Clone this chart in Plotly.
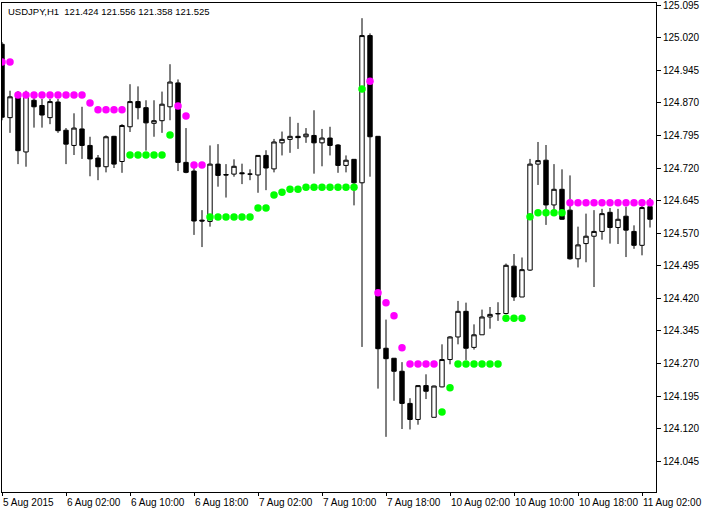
import plotly.graph_objects as go

# ---- data (USDJPY H1) ----
bar_index = list(range(82))

opens = [125.005, 124.836, 124.885, 124.757, 124.876, 124.864, 124.836, 124.872, 124.807, 124.772,
         124.810, 124.772, 124.743, 124.723, 124.793, 124.735, 124.815, 124.873, 124.859, 124.823,
         124.829, 124.861, 124.916, 124.733, 124.713, 124.600, 124.597, 124.729, 124.705, 124.706,
         124.709, 124.706, 124.704, 124.749, 124.718, 124.778, 124.786, 124.793, 124.792, 124.795,
         124.778, 124.789, 124.773, 124.726, 124.740, 124.686, 125.025, 124.793, 124.305, 124.282,
         124.252, 124.178, 124.141, 124.219, 124.146, 124.216, 124.279, 124.331, 124.390, 124.307,
         124.336, 124.377, 124.384, 124.385, 124.494, 124.423, 124.485, 124.729, 124.738, 124.635,
         124.671, 124.623, 124.511, 124.546, 124.563, 124.574, 124.618, 124.583, 124.609, 124.574,
         124.542, 124.631]

highs = [125.010, 124.898, 124.897, 124.898, 124.888, 124.879, 124.879, 124.879, 124.812, 124.846,
         124.861, 124.792, 124.750, 124.795, 124.794, 124.821, 124.913, 124.908, 124.876, 124.876,
         124.896, 124.959, 124.924, 124.812, 124.732, 124.623, 124.772, 124.775, 124.729, 124.740,
         124.730, 124.717, 124.750, 124.761, 124.787, 124.804, 124.838, 124.824, 124.812, 124.853,
         124.810, 124.815, 124.775, 124.749, 124.740, 125.065, 125.030, 124.793, 124.371, 124.282,
         124.273, 124.190, 124.220, 124.245, 124.219, 124.314, 124.333, 124.414, 124.410, 124.360,
         124.394, 124.400, 124.411, 124.500, 124.522, 124.514, 124.741, 124.780, 124.773, 124.729,
         124.717, 124.703, 124.585, 124.615, 124.623, 124.626, 124.628, 124.626, 124.631, 124.588,
         124.640, 124.651]

lows = [124.830, 124.801, 124.729, 124.723, 124.813, 124.813, 124.821, 124.801, 124.729, 124.750,
        124.741, 124.701, 124.692, 124.710, 124.720, 124.709, 124.803, 124.832, 124.760, 124.792,
        124.801, 124.830, 124.713, 124.708, 124.566, 124.538, 124.585, 124.677, 124.652, 124.700,
        124.683, 124.692, 124.663, 124.669, 124.710, 124.749, 124.755, 124.764, 124.778, 124.707,
        124.724, 124.749, 124.709, 124.710, 124.634, 124.308, 124.700, 124.212, 124.101, 124.184,
        124.119, 124.118, 124.129, 124.188, 124.146, 124.215, 124.268, 124.314, 124.278, 124.302,
        124.336, 124.350, 124.368, 124.383, 124.414, 124.423, 124.483, 124.681, 124.589, 124.617,
        124.601, 124.509, 124.491, 124.503, 124.446, 124.555, 124.546, 124.545, 124.515, 124.534,
        124.519, 124.583]

closes = [124.837, 124.884, 124.760, 124.888, 124.861, 124.842, 124.873, 124.806, 124.775, 124.812,
          124.772, 124.741, 124.723, 124.792, 124.729, 124.818, 124.873, 124.859, 124.824, 124.829,
          124.867, 124.918, 124.733, 124.710, 124.598, 124.598, 124.729, 124.703, 124.704, 124.724,
          124.707, 124.706, 124.749, 124.720, 124.780, 124.786, 124.793, 124.790, 124.798, 124.778,
          124.789, 124.772, 124.726, 124.738, 124.686, 125.025, 124.792, 124.304, 124.281, 124.252,
          124.178, 124.141, 124.219, 124.206, 124.218, 124.279, 124.331, 124.390, 124.305, 124.336,
          124.377, 124.383, 124.385, 124.496, 124.423, 124.486, 124.729, 124.737, 124.635, 124.671,
          124.602, 124.511, 124.543, 124.563, 124.574, 124.615, 124.583, 124.602, 124.577, 124.542,
          124.629, 124.602]

# upper (magenta) indicator dots
upper_dots = [124.964, 124.964, 124.888, 124.888, 124.888, 124.888, 124.888, 124.888, 124.888, 124.888,
              124.888, 124.870, 124.854, 124.854, 124.854, 124.854, None, None, None, None,
              None, None, 124.863, 124.840, 124.727, 124.727, None, None, None, None,
              None, None, None, None, None, None, None, None, None, None,
              None, None, None, None, None, None, 124.920, 124.433, 124.410, 124.380,
              124.306, 124.269, 124.269, 124.269, 124.269, None, None, None, None, None,
              None, None, None, None, None, None, None, None, None, None,
              None, 124.640, 124.640, 124.640, 124.640, 124.640, 124.640, 124.640, 124.640, 124.640,
              124.640, 124.640]

# lower (green) indicator dots
lower_dots = [None, None, None, None, None, None, None, None, None, None,
              None, None, None, None, None, None, 124.750, 124.750, 124.750, 124.750,
              124.750, 124.796, None, None, None, None, 124.607, 124.607, 124.607, 124.607,
              124.607, 124.607, 124.628, 124.628, 124.658, 124.664, 124.671, 124.671, 124.676, 124.676,
              124.676, 124.676, 124.676, 124.676, 124.676, 124.902, None, None, None, None,
              None, None, None, None, None, 124.158, 124.214, 124.269, 124.269, 124.269,
              124.269, 124.269, 124.269, 124.374, 124.374, 124.374, 124.608, 124.617, 124.617, 124.617,
              124.617, None, None, None, None, None, None, None, None, None,
              None, None]

time_tick_pos = [0, 8, 16, 24, 32, 40, 48, 56, 64, 72, 80]
time_tick_labels = ["5 Aug 2015", "6 Aug 02:00", "6 Aug 10:00", "6 Aug 18:00", "7 Aug 02:00",
                    "7 Aug 10:00", "7 Aug 18:00", "10 Aug 02:00", "10 Aug 10:00",
                    "10 Aug 18:00", "11 Aug 02:00"]

price_ticks = [125.095, 125.020, 124.945, 124.870, 124.795, 124.720, 124.645, 124.570,
               124.495, 124.420, 124.345, 124.270, 124.195, 124.120, 124.045]
price_tick_labels = ["125.095", "125.020", "124.945", "124.870", "124.795", "124.720", "124.645",
                     "124.570", "124.495", "124.420", "124.345", "124.270", "124.195", "124.120",
                     "124.045"]

header_text = "USDJPY,H1\u00a0\u00a0121.424 121.556 121.358 121.525"

# ---- figure ----
FONT = "Liberation Sans, Arial, sans-serif"

fig = go.Figure()
fig.add_trace(go.Candlestick(
    x=bar_index, open=opens, high=highs, low=lows, close=closes,
    increasing=dict(line=dict(color="black", width=1), fillcolor="white"),
    decreasing=dict(line=dict(color="black", width=1), fillcolor="black"),
    whiskerwidth=0, showlegend=False, hoverinfo="skip",
))
fig.add_trace(go.Scatter(
    x=bar_index, y=upper_dots, mode="markers",
    marker=dict(size=7.5, color="#FF00FF"), showlegend=False, hoverinfo="skip",
))
fig.add_trace(go.Scatter(
    x=bar_index, y=lower_dots, mode="markers",
    marker=dict(size=7.5, color="#00FF00"), showlegend=False, hoverinfo="skip",
))

fig.update_layout(
    width=709, height=512,
    margin=dict(l=2, r=53, t=3, b=20, autoexpand=False),
    paper_bgcolor="white", plot_bgcolor="white",
    font=dict(family=FONT, size=10, color="black"),
    boxgap=0.45, boxgroupgap=0,
    hovermode=False,
    xaxis=dict(
        range=[0, 81.75], showgrid=False, zeroline=False,
        showline=True, mirror=True, linecolor="black", linewidth=1,
        ticks="outside", ticklen=3, tickcolor="black", tickwidth=1,
        tickvals=time_tick_pos, ticktext=time_tick_labels,
        ticklabelposition="outside right", tickangle=0, automargin=False,
        ticklabelstandoff=1, ticklabeloverflow="allow",
        tickfont=dict(family=FONT, size=10, color="black"),
        rangeslider=dict(visible=False),
    ),
    yaxis=dict(
        side="right", range=[123.974, 125.100], showgrid=False, zeroline=False,
        showline=True, mirror=True, linecolor="black", linewidth=1,
        ticks="outside", ticklen=4, tickcolor="black", tickwidth=1,
        tickvals=price_ticks, ticktext=price_tick_labels, automargin=False,
        ticklabeloverflow="allow",
        tickfont=dict(family=FONT, size=10, color="black"),
    ),
    annotations=[dict(
        text=header_text, xref="paper", yref="paper", x=0, y=1,
        xanchor="left", yanchor="top", xshift=4, yshift=-1, showarrow=False,
        font=dict(family=FONT, size=9.5, color="black"),
    )],
)

fig.write_html("out.html", config={"displayModeBar": False},
               post_script="document.body.style.margin='0';document.body.style.overflow='hidden';")
